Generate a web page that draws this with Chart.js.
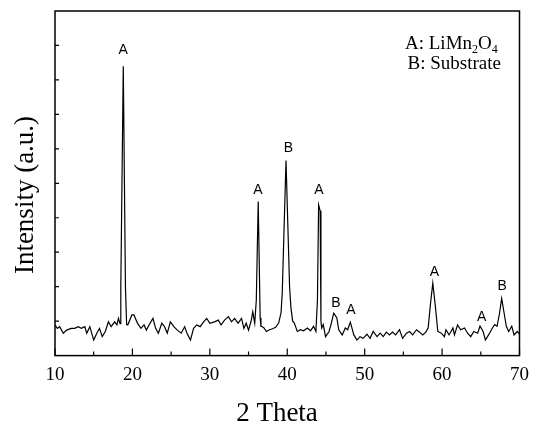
<!DOCTYPE html>
<html>
<head>
<meta charset="utf-8">
<script src="https://cdn.jsdelivr.net/npm/chart.js@4"></script>
<style>
html, body { margin: 0; padding: 0; background: #fff; }
#wrap { width: 537px; height: 425px; position: relative; }
</style>
</head>
<body>
<div id="wrap"><canvas id="xrd"></canvas></div>
<script>
// XRD pattern
const twoTheta = [
  10.0, 10.3, 10.6, 11.07, 11.5, 12.1, 12.55, 13.0, 13.4, 13.85, 14.1, 14.5, 15.0, 15.4, 15.75, 16.1, 16.5, 16.9, 17.25, 17.7, 18.0, 18.2, 18.4,
  18.5, 18.82, 19.1, 19.25,
  19.4, 19.93, 20.2, 20.65, 21.1, 21.5, 21.8, 22.15, 22.65, 23.0, 23.35, 23.8, 24.15, 24.5, 24.9, 25.35, 25.8, 26.3, 26.75, 27.05, 27.5, 27.9,
  28.3, 28.75, 29.2, 29.6, 30.0, 30.6, 31.1, 31.45, 31.9, 32.4, 32.8, 33.2, 33.65, 34.1, 34.4, 34.7, 35.0, 35.36, 35.55, 35.8,
  36.0, 36.25, 36.5, 36.6,
  36.7, 37.0, 37.3, 37.7, 38.1, 38.5, 38.9, 39.2,
  39.35, 39.84, 40.3, 40.47,
  40.7, 40.9, 41.3, 41.7, 42.1, 42.6, 43.0, 43.4, 43.7,
  43.9, 44.05, 44.25, 44.35,
  44.45, 44.65, 44.95, 45.4, 45.65, 46.0, 46.4, 46.65, 47.1, 47.5, 47.8, 48.15, 48.6, 49.0, 49.4, 49.8, 50.3, 50.7, 51.1, 51.6,
  52.0, 52.4, 52.8, 53.2, 53.6, 54.0, 54.5, 54.9, 55.4, 55.8, 56.2, 56.7, 57.1, 57.5, 57.9, 58.2,
  58.5, 58.8, 59.1,
  59.45, 59.9, 60.3, 60.5, 60.9, 61.4, 61.6, 62.0, 62.4, 62.9, 63.3, 63.7, 64.1, 64.6, 64.9, 65.3, 65.6, 66.0, 66.5, 66.8, 67.1,
  67.4, 67.7, 68.0,
  68.3, 68.6, 69.0, 69.3, 69.7, 70.0
];
const intensity = [
  0.89, 0.79, 0.84, 0.65, 0.74, 0.79, 0.79, 0.84, 0.79, 0.84, 0.65, 0.84, 0.45, 0.65, 0.79, 0.55, 0.7, 0.98, 0.84, 0.98, 0.89, 1.08, 0.93,
  2.0, 8.4, 2.0, 0.9,
  0.89, 1.18, 1.18, 0.94, 0.79, 0.89, 0.74, 0.89, 1.08, 0.79, 0.65, 0.94, 0.84, 0.65, 0.98, 0.84, 0.74, 0.65, 0.84, 0.65, 0.45, 0.79,
  0.89, 0.84, 0.98, 1.08, 0.94, 0.98, 1.03, 0.89, 1.03, 1.13, 0.98, 1.08, 0.94, 1.08, 0.79, 0.94, 0.74, 1.03, 1.27, 0.94,
  1.6, 4.47, 1.1, 0.85,
  0.85, 0.8, 0.7, 0.75, 0.78, 0.82, 0.95, 1.25,
  1.8, 5.66, 2.0, 1.4,
  1.0, 0.95, 0.7, 0.75, 0.72, 0.8, 0.72, 0.85, 0.7,
  1.6, 4.37, 4.2, 1.0,
  0.8, 0.9, 0.55, 0.7, 0.9, 1.23, 1.1, 0.75, 0.6, 0.8, 0.75, 0.97, 0.6, 0.45, 0.55, 0.5, 0.62, 0.5, 0.7, 0.55,
  0.65, 0.55, 0.68, 0.6, 0.68, 0.6, 0.75, 0.5, 0.65, 0.7, 0.6, 0.75, 0.68, 0.6, 0.68, 0.8,
  1.5, 2.1, 1.5,
  0.7, 0.65, 0.55, 0.75, 0.6, 0.8, 0.6, 0.89, 0.75, 0.8, 0.65, 0.55, 0.7, 0.65, 0.86, 0.7, 0.45, 0.6, 0.8, 0.9, 0.85,
  1.2, 1.66, 1.25,
  0.85, 0.7, 0.85, 0.6, 0.7, 0.62
];

// peak markers: which phase, and where the letter sits
const peakAngles = [18.82, 36.2, 40.14, 44.1, 46.3, 48.24, 59.0, 65.1, 67.76];
const peakLabelLevels = [8.87, 4.79, 6.02, 4.79, 1.52, 1.32, 2.41, 1.13, 2.02];
const peakPhases = ['A', 'A', 'B', 'A', 'B', 'A', 'A', 'A', 'B'];

const xMajorTicks = [10, 20, 30, 40, 50, 60, 70];
const xMinorTicks = [15, 25, 35, 45, 55, 65];
const yTicks = [1, 2, 3, 4, 5, 6, 7, 8, 9];

const serif = '"Liberation Serif", "Times New Roman", serif';

const decor = {
  id: 'decor',
  afterDraw(chart) {
    const ctx = chart.ctx;
    const a = chart.chartArea;
    const xs = chart.scales.x, ys = chart.scales.y;
    ctx.save();

    // frame
    ctx.strokeStyle = '#000';
    ctx.lineWidth = 1.5;
    ctx.strokeRect(a.left, a.top, a.right - a.left, a.bottom - a.top);

    // inward ticks
    ctx.lineWidth = 1.2;
    ctx.beginPath();
    xMajorTicks.forEach(v => {
      const px = xs.getPixelForValue(v);
      ctx.moveTo(px, a.bottom); ctx.lineTo(px, a.bottom - 7);
    });
    xMinorTicks.forEach(v => {
      const px = xs.getPixelForValue(v);
      ctx.moveTo(px, a.bottom); ctx.lineTo(px, a.bottom - 4);
    });
    yTicks.forEach(v => {
      const py = ys.getPixelForValue(v);
      ctx.moveTo(a.left, py); ctx.lineTo(a.left + 4, py);
    });
    ctx.stroke();

    // phase letters over the peaks
    ctx.fillStyle = '#000';
    ctx.font = '14px "Liberation Sans", Arial, sans-serif';
    ctx.textAlign = 'center';
    ctx.textBaseline = 'middle';
    peakAngles.forEach((v, i) => {
      ctx.fillText(peakPhases[i], xs.getPixelForValue(v), ys.getPixelForValue(peakLabelLevels[i]));
    });

    // key, top right
    ctx.textAlign = 'left';
    ctx.textBaseline = 'alphabetic';
    let x = 405;
    const y1 = 48.5;
    const parts = [['A: LiMn', false], ['2', true], ['O', false], ['4', true]];
    parts.forEach(([t, sub]) => {
      ctx.font = (sub ? '12px ' : '19px ') + serif;
      ctx.fillText(t, x, sub ? y1 + 4.5 : y1);
      x += ctx.measureText(t).width;
    });
    ctx.font = '19px ' + serif;
    ctx.fillText('B: Substrate', 407.5, 68.5);

    // axis titles
    ctx.font = '27px ' + serif;
    ctx.textAlign = 'center';
    ctx.fillText('2 Theta', 277, 421);
    ctx.translate(33, 195);
    ctx.rotate(-Math.PI / 2);
    ctx.fillText('Intensity (a.u.)', 0, 0);
    ctx.restore();
  }
};

new Chart(document.getElementById('xrd'), {
  type: 'line',
  data: {
    datasets: [{
      data: twoTheta.map((t, i) => ({ x: t, y: intensity[i] })),
      borderColor: '#000',
      borderWidth: 1.2,
      pointRadius: 0,
      tension: 0,
      fill: false
    }]
  },
  options: {
    responsive: true,
    maintainAspectRatio: false,
    animation: false,
    layout: { padding: { top: 11, right: 13, left: 0, bottom: 0 } },
    plugins: { legend: { display: false }, tooltip: { enabled: false } },
    scales: {
      x: {
        type: 'linear',
        min: 10,
        max: 70,
        grid: { display: false, drawTicks: false },
        border: { display: false },
        ticks: {
          stepSize: 10,
          maxRotation: 0,
          padding: 8,
          color: '#000',
          font: { family: serif, size: 19 }
        },
        afterFit: s => { s.height = 69.4; }
      },
      y: {
        min: 0,
        max: 10,
        grid: { display: false, drawTicks: false },
        border: { display: false },
        ticks: { display: false },
        afterFit: s => { s.width = 55; }
      }
    }
  },
  plugins: [decor]
});
</script>
</body>
</html>
